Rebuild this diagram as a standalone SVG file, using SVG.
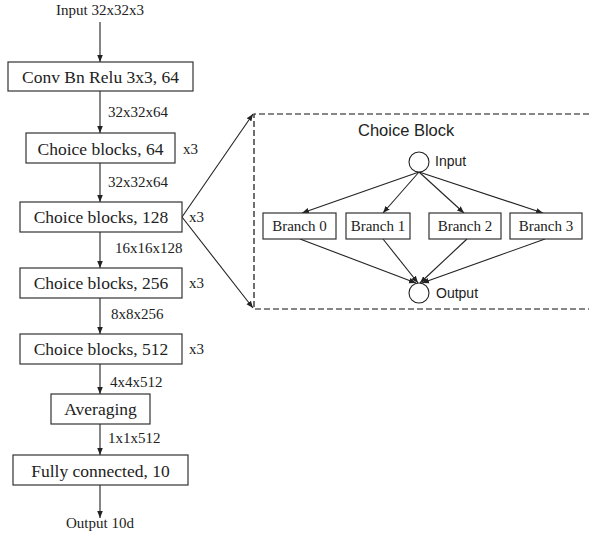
<svg xmlns="http://www.w3.org/2000/svg" width="589" height="537" viewBox="0 0 589 537">
<style>
.box{fill:#fff;stroke:#333;stroke-width:1.2}
.t{font-family:"Liberation Serif","Times New Roman",serif;fill:#222}
.bt{font-size:17.5px}
.lt{font-size:15px}
.s{font-family:"Liberation Sans",Arial,sans-serif;fill:#222}
.ln{stroke:#222;stroke-width:1.1;fill:none}
.dash{stroke:#111;stroke-width:1.2;fill:none;stroke-dasharray:6 3}
</style>
<defs>
<marker id="ah" viewBox="0 0 10 10" refX="10" refY="5" markerWidth="7" markerHeight="7" orient="auto" markerUnits="userSpaceOnUse">
<path d="M0,1 L10,5 L0,9 z" fill="#222"/>
</marker>
</defs>
<rect width="589" height="537" fill="#fff"/>
<g id="connectors">
<line class="ln" x1="100" y1="22" x2="100" y2="62" marker-end="url(#ah)"/>
<line class="ln" x1="100" y1="91" x2="100" y2="133" marker-end="url(#ah)"/>
<line class="ln" x1="100" y1="163" x2="100" y2="202" marker-end="url(#ah)"/>
<line class="ln" x1="100" y1="232" x2="100" y2="268" marker-end="url(#ah)"/>
<line class="ln" x1="100" y1="298" x2="100" y2="334" marker-end="url(#ah)"/>
<line class="ln" x1="100" y1="364" x2="100" y2="394" marker-end="url(#ah)"/>
<line class="ln" x1="100" y1="424" x2="100" y2="455" marker-end="url(#ah)"/>
<line class="ln" x1="100" y1="485" x2="100" y2="518" marker-end="url(#ah)"/>
<line class="ln" x1="182" y1="217" x2="253" y2="114" marker-end="url(#ah)"/>
<line class="ln" x1="182" y1="217" x2="253" y2="308" marker-end="url(#ah)"/>
<line class="ln" x1="419" y1="172" x2="302" y2="213" marker-end="url(#ah)"/>
<line class="ln" x1="419" y1="172" x2="383" y2="213" marker-end="url(#ah)"/>
<line class="ln" x1="419" y1="172" x2="464" y2="213" marker-end="url(#ah)"/>
<line class="ln" x1="419" y1="172" x2="543" y2="213" marker-end="url(#ah)"/>
<line class="ln" x1="300" y1="239" x2="416" y2="283" marker-end="url(#ah)"/>
<line class="ln" x1="383" y1="239" x2="418" y2="283" marker-end="url(#ah)"/>
<line class="ln" x1="467" y1="239" x2="420" y2="283" marker-end="url(#ah)"/>
<line class="ln" x1="545" y1="239" x2="422" y2="283" marker-end="url(#ah)"/>
</g>
<g id="labels" class="t lt">
<text x="100" y="15" text-anchor="middle">Input 32x32x3</text>
<text x="108" y="117">32x32x64</text>
<text x="108" y="187">32x32x64</text>
<text x="115" y="253">16x16x128</text>
<text x="111" y="319">8x8x256</text>
<text x="110" y="387">4x4x512</text>
<text x="108" y="443">1x1x512</text>
<text x="100" y="528" text-anchor="middle">Output 10d</text>
<text x="183" y="154">x3</text>
<text x="189" y="222">x3</text>
<text x="189" y="288">x3</text>
<text x="189" y="354">x3</text>
</g>
<g id="conv"><rect class="box" x="8" y="62" width="185" height="29"/><text class="t bt" x="100.5" y="83" text-anchor="middle">Conv Bn Relu 3x3, 64</text></g>
<g id="cb64"><rect class="box" x="26" y="133" width="149" height="30"/><text class="t bt" x="100.5" y="155" text-anchor="middle">Choice blocks, 64</text></g>
<g id="cb128"><rect class="box" x="20" y="202" width="162" height="30"/><text class="t bt" x="101" y="223" text-anchor="middle">Choice blocks, 128</text></g>
<g id="cb256"><rect class="box" x="20" y="268" width="162" height="30"/><text class="t bt" x="101" y="289" text-anchor="middle">Choice blocks, 256</text></g>
<g id="cb512"><rect class="box" x="20" y="334" width="162" height="30"/><text class="t bt" x="101" y="355" text-anchor="middle">Choice blocks, 512</text></g>
<g id="avg"><rect class="box" x="51" y="394" width="99" height="30"/><text class="t bt" x="100.5" y="415" text-anchor="middle">Averaging</text></g>
<g id="fc"><rect class="box" x="13" y="455" width="175" height="30"/><text class="t bt" x="100.5" y="477" text-anchor="middle">Fully connected, 10</text></g>
<g id="choice-block">
<path class="dash" d="M589,114 H254 V309 H589"/>
<text class="s" x="358" y="136" font-size="16.5">Choice Block</text>
</g>
<g id="cb-input"><circle cx="419" cy="162" r="10" fill="#fff" stroke="#222" stroke-width="1.1"/><text class="s" x="435" y="166" font-size="14">Input</text></g>
<g id="branch0"><rect class="box" x="263" y="213" width="73" height="26"/><text class="t lt" x="299.5" y="231" text-anchor="middle">Branch 0</text></g>
<g id="branch1"><rect class="box" x="346" y="213" width="64" height="26"/><text class="t lt" x="378" y="231" text-anchor="middle">Branch 1</text></g>
<g id="branch2"><rect class="box" x="429" y="213" width="72" height="26"/><text class="t lt" x="465" y="231" text-anchor="middle">Branch 2</text></g>
<g id="branch3"><rect class="box" x="510" y="213" width="72" height="26"/><text class="t lt" x="546" y="231" text-anchor="middle">Branch 3</text></g>
<g id="cb-output"><circle cx="419" cy="293" r="10" fill="#fff" stroke="#222" stroke-width="1.1"/><text class="s" x="436" y="298" font-size="14">Output</text></g>
</svg>
